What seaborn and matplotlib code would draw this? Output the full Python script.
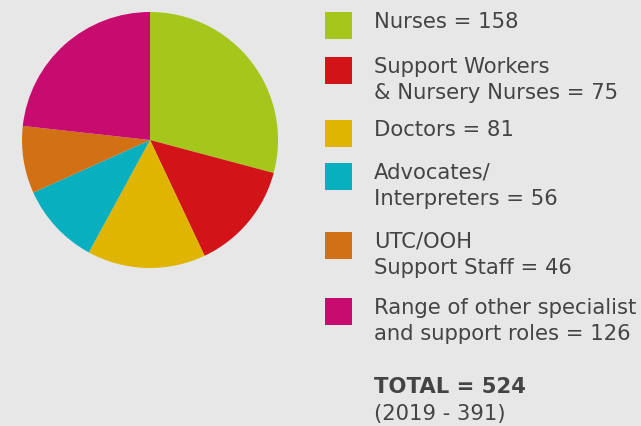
import matplotlib
matplotlib.use("Agg")
import matplotlib.pyplot as plt
import seaborn as sns
from matplotlib.patches import Rectangle

# Staff groups and head counts
labels = [
    "Nurses = 158",
    "Support Workers\n& Nursery Nurses = 75",
    "Doctors = 81",
    "Advocates/\nInterpreters = 56",
    "UTC/OOH\nSupport Staff = 46",
    "Range of other specialist\nand support roles = 126",
]
values = [158, 75, 81, 56, 46, 126]
colors = ["#a5c61a", "#d21317", "#e0b500", "#08afbf", "#d27014", "#c70b6f"]
total_text = "TOTAL = 524"
prev_text = "(2019 - 391)"

bg = "#e7e7e7"
txt = "#444444"

sns.set_theme(style="white")
plt.rcParams["font.family"] = ["DejaVu Sans"]

W, H = 641, 427
fig = plt.figure(figsize=(W / 100, H / 100), dpi=100, facecolor=bg)

# pie: centre (150,141), radius 128 in pixels
cx, cy, r = 150, 141, 128
ax = fig.add_axes([(cx - r) / W, (H - cy - r) / H, 2 * r / W, 2 * r / H])
ax.pie(values, colors=colors, startangle=90, counterclock=False,
       radius=1, wedgeprops=dict(linewidth=0))
ax.set_xlim(-1, 1)
ax.set_ylim(-1, 1)
ax.set_aspect("equal")
ax.axis("off")

# legend drawn in pixel coordinates
lg = fig.add_axes([0, 0, 1, 1])
lg.set_xlim(0, W)
lg.set_ylim(H, 0)
lg.axis("off")
lg.patch.set_alpha(0)

fs = 15.2
tops = [13, 58, 121, 164, 233, 299]
for top, lab, col in zip(tops, labels, colors):
    lg.add_patch(Rectangle((325, top), 27, 27, color=col, lw=0))
    lg.text(374, top - 1, lab, va="top", ha="left", fontsize=fs,
            color=txt, linespacing=1.38)

lg.text(374, 377, total_text, va="top", ha="left", fontsize=fs,
        color=txt, fontweight="bold")
lg.text(374, 404, prev_text, va="top", ha="left", fontsize=fs, color=txt)

fig.savefig("out.png", dpi=100, facecolor=bg)
